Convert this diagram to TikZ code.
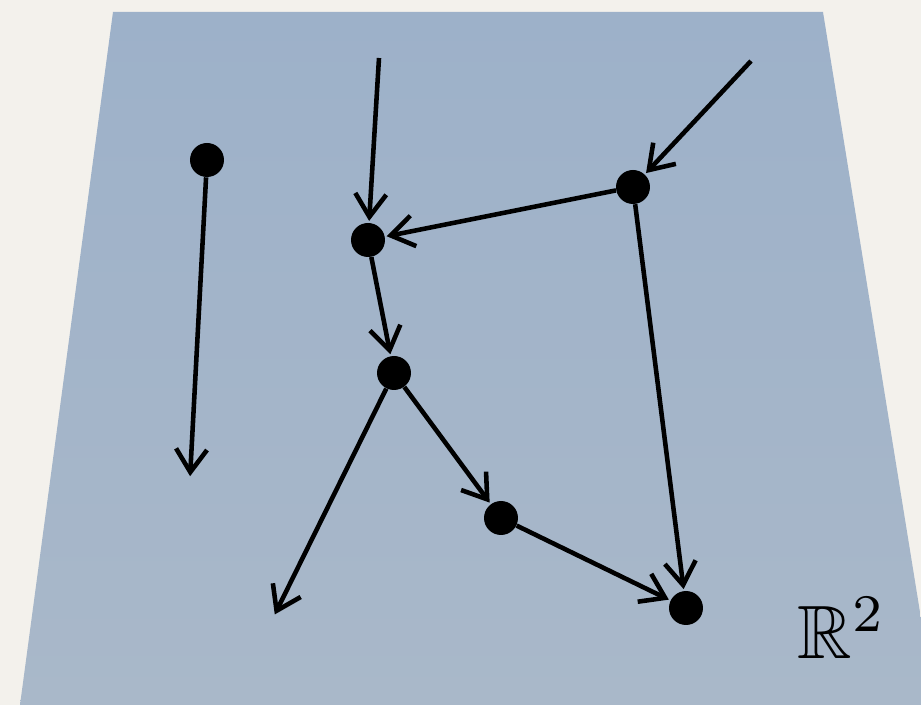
\documentclass[tikz,border=0pt]{standalone}
\usepackage{amssymb}
\usetikzlibrary{arrows.meta}
\definecolor{paper}{HTML}{F3F1EC}
\definecolor{planetop}{HTML}{9DB1C9}
\definecolor{planebot}{HTML}{A9B8C9}

\begin{document}
\begin{tikzpicture}[x=0.02cm, y=-0.02cm,
    dot/.style={circle, fill=black, inner sep=0pt, minimum size=0.68cm},
    link/.style={-{Straight Barb[length=0.46cm, width=0.62cm, line width=2.6pt]}, line width=2.6pt, shorten >=1pt}]
  \useasboundingbox (0,0) rectangle (921,705);
  \fill[paper] (0,0) rectangle (921,705);
  \shade[top color=planetop, bottom color=planebot] (113,12) -- (823,12) -- (935,705) -- (20,705) -- cycle;
  \foreach \n/\x/\y in {a/207/160, b/368/240, c/633/187, d/394/373, f/501/518, e/686/608}
    \node[dot] (\n) at (\x,\y) {};
  \coordinate (a-end) at (190,478);
  \coordinate (b-in) at (379,58);
  \coordinate (c-in) at (751,61);
  \coordinate (d-end) at (274,616);
  \foreach \s/\t in {a/a-end, b-in/b, c-in/c, c/b, c/e, b/d, d/d-end, d/f, f/e}
    \draw[link] (\s) -- (\t);
  \node[scale=4.3] (r2) at (842,628) {$\mathbb{R}^2$};
\end{tikzpicture}
\end{document}
